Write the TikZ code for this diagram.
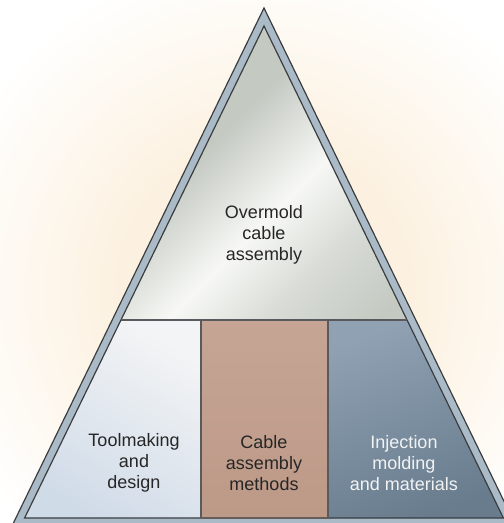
\documentclass[tikz,border=0pt]{standalone}
\usepackage{fontspec}
\setmainfont{Liberation Sans}

\definecolor{glow}{HTML}{FCF1E0}
\definecolor{rim}{HTML}{ABBAC7}
\definecolor{edge}{HTML}{3A3D40}
\definecolor{silverdark}{HTML}{C4C9C2}
\definecolor{silverlight}{HTML}{F7F8F5}
\definecolor{iceblue}{HTML}{D0DBE8}
\definecolor{icewhite}{HTML}{F3F4F5}
\definecolor{tan}{HTML}{C6A595}
\definecolor{tandark}{HTML}{BD9987}
\definecolor{slatelight}{HTML}{8FA1B2}
\definecolor{slatedark}{HTML}{687C8E}

% cream halo, fading out well before the square's edge
\pgfdeclareradialshading{glowshade}{\pgfpoint{0bp}{0bp}}{%
  color(0bp)=(glow); color(12bp)=(glow); color(28bp)=(white); color(50bp)=(white)}

% silver face with a pale streak across it
\pgfdeclarehorizontalshading{streak}{100bp}{%
  color(0bp)=(silverdark); color(40bp)=(silverdark); color(56bp)=(silverlight);
  color(68bp)=(silverdark!60!silverlight); color(82bp)=(silverdark); color(100bp)=(silverdark)}

\tikzset{
  celltext/.style={align=center, font=\fontsize{18}{21}\selectfont, text=black!85},
  divider/.style={draw=edge!85, line width=1.8pt},
}

\begin{document}
\begin{tikzpicture}[x=1pt,y=-1pt]

	\useasboundingbox (0,0) rectangle (504,523);
	\clip (0,0) rectangle (504,523);

	% soft glow behind the pyramid
	\shade[shading=glowshade] (-36,-10) rectangle (564,590);

	% outer rim
	\filldraw[fill=rim, draw=edge, line width=1.2pt] (264,8) -- (11,528) -- (517,528) -- cycle;

	% top: overmold cable assembly
	\shade[shading=streak, shading angle=-45]
		(264,26) -- (120.9,320) -- (407.1,320) -- cycle;

	% bottom row of three
	\shade[top color=icewhite, bottom color=iceblue, shading angle=-30]
		(120.9,320) -- (201,320) -- (201,518) -- (24.6,518) -- cycle;
	\shade[top color=tan, bottom color=tandark]
		(201,320) rectangle (328,518);
	\shade[top color=slatelight, bottom color=slatedark, shading angle=20]
		(328,320) -- (407.1,320) -- (503.4,518) -- (328,518) -- cycle;

	% inner outline and dividers
	\draw[edge, line width=1.2pt] (264,26) -- (24.6,518) -- (503.4,518) -- cycle;
	\draw[divider] (120.9,320) -- (407.1,320);
	\draw[divider] (201,320) -- (201,518);
	\draw[divider] (328,320) -- (328,518);

	\node[celltext] (overmold) at (264,235) {Overmold\\cable\\assembly};
	\node[celltext] (tooling) at (134,463) {Toolmaking\\and\\design};
	\node[celltext] (methods) at (264,463) {Cable\\assembly\\methods};
	\node[celltext, text=white!95!black] (molding) at (404,463) {Injection\\molding\\and materials};

\end{tikzpicture}
\end{document}
